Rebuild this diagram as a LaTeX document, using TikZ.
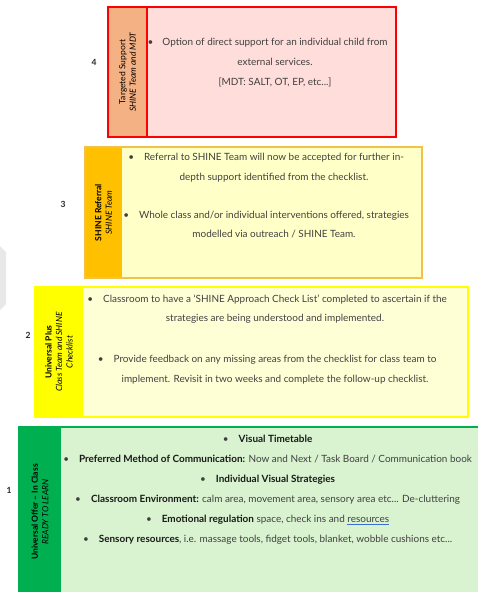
\documentclass[tikz,border=0pt]{standalone}
\usepackage{fontspec}
\setmainfont{Lato}
\definecolor{cFourSide}{HTML}{F4B183}
\definecolor{cFourFill}{HTML}{FEDDDA}
\definecolor{cThreeSide}{HTML}{FFC000}
\definecolor{cThreeFill}{HTML}{FFFFC8}
\definecolor{cThreeLine}{HTML}{F2C14A}
\definecolor{cTwoSide}{HTML}{FFFF00}
\definecolor{cTwoFill}{HTML}{FFFFD6}
\definecolor{cOneSide}{HTML}{00B050}
\definecolor{cOneFill}{HTML}{D9F2D0}
\definecolor{txt}{HTML}{404040}
\definecolor{linkblue}{HTML}{3B6FD0}
\newcommand{\bul}[1]{\llap{\textbullet\hspace{#1}}}
\newcommand{\bodyfnt}{\fontsize{9.95}{19.6}\selectfont}
\newcommand{\bluul}[1]{\setbox0\hbox{#1}\rlap{\color{linkblue}\rule[-2.3pt]{\wd0}{0.7pt}}\box0}
\begin{document}
\begin{tikzpicture}[x=1pt,y=-1pt,
  cell/.style={inner sep=0pt, outer sep=0pt, anchor=north west},
  sidelabel/.style={rotate=90, align=center, font=\fontsize{8.5}{10.5}\selectfont, text=black},
  body/.style={align=center, font=\bodyfnt, text=txt, inner sep=0pt},
  num/.style={font=\bfseries\fontsize{8.5}{9}\selectfont, text=black!85}]
\useasboundingbox (0,0) rectangle (478,592);
\fill[white] (0,0) rectangle (478,592);
% faint grey shape at the left edge
\fill[black!9] (0,246) -- (6,252) -- (6,304) -- (0,310) -- cycle;

% ---- Level 4
\node[cell, fill=cFourFill, minimum width=249pt, minimum height=130pt] (c4) at (147,7) {};
\node[cell, fill=cFourSide, minimum width=39pt, minimum height=130pt] (s4) at (108,7) {};
\draw[red, line width=2.2pt] (s4.north west) rectangle (c4.south east);
\draw[red, line width=1.6pt] (s4.north east) -- (s4.south east);
\node[sidelabel] (l4) at (s4.center) {Targeted Support\\\textit{SHINE Team and MDT}};
\node[num] (n4) at (94,62) {4};
\node[body] (t4) at (275,62.5) {\bul{9pt}Option of direct support for an individual child from\\external services.\\{[}MDT: SALT, OT, EP, etc...]};

% ---- Level 3
\node[cell, fill=cThreeFill, minimum width=300pt, minimum height=131pt] (c3) at (122,147) {};
\node[cell, fill=cThreeSide, minimum width=37pt, minimum height=131pt] (s3) at (85,147) {};
\draw[cThreeLine, line width=1.1pt] (s3.north west) rectangle (c3.south east);
\node[sidelabel] (l3) at (s3.center) {\textbf{SHINE Referral}\\\textit{SHINE Team}};
\node[num] (n3) at (63,204) {3};
\node[body] (t3a) at (274,167.5) {\bul{10pt}Referral to SHINE Team will now be accepted for further in-\\depth support identified from the checklist.};
\node[body] (t3b) at (274,224.5) {\bul{10pt}Whole class and/or individual interventions offered, strategies\\modelled via outreach / SHINE Team.};

% ---- Level 2
\node[cell, fill=cTwoFill, minimum width=385pt, minimum height=130pt] (c2) at (83,287) {};
\node[cell, fill=cTwoSide, minimum width=48pt, minimum height=130pt] (s2) at (35,287) {};
\draw[cTwoSide, line width=2.2pt] (s2.north west) rectangle (c2.south east);
\node[sidelabel] (l2) at (s2.center) {\textbf{Universal Plus}\\\textit{Class Team and SHINE}\\\textit{Checklist}};
\node[num] (n2) at (28,335) {2};
\node[body] (t2a) at (275,309) {\bul{10pt}Classroom to have a ‘SHINE Approach Check List’ completed to ascertain if the\\strategies are being understood and implemented.};
\node[body] (t2b) at (275,369.5) {\bul{10pt}Provide feedback on any missing areas from the checklist for class team to\\implement. Revisit in two weeks and complete the follow-up checklist.};

% ---- Level 1
\node[cell, fill=cOneFill, minimum width=420pt, minimum height=170pt] (c1) at (61,427) {};
\node[cell, fill=cOneSide, minimum width=42pt, minimum height=170pt] (s1) at (19,427) {};
\draw[cOneSide, line width=1.4pt] (s1.south west) -- (s1.north west) -- (478,427);
\node[sidelabel] (l1) at (s1.center) {\textbf{Universal Offer – In Class}\\\textit{READY TO LEARN}};
\node[num] (n1) at (9,490) {1};
\node[body, font=\fontsize{9.95}{20}\selectfont] (t1) at (275.5,489.5) {%
\bul{10pt}\textbf{\color{black!90}Visual Timetable}\\
\bul{10pt}\textbf{\color{black!90}Preferred Method of Communication:} Now and Next / Task Board / Communication book\\
\bul{10pt}\textbf{\color{black!90}Individual Visual Strategies}\\
\bul{10pt}\textbf{\color{black!90}Classroom Environment:} calm area, movement area, sensory area etc... De-cluttering\\
\bul{10pt}\textbf{\color{black!90}Emotional regulation} space, check ins and \bluul{resources}\\
\bul{10pt}\textbf{\color{black!90}Sensory resources}, i.e. massage tools, fidget tools, blanket, wobble cushions etc...};
\end{tikzpicture}
\end{document}
